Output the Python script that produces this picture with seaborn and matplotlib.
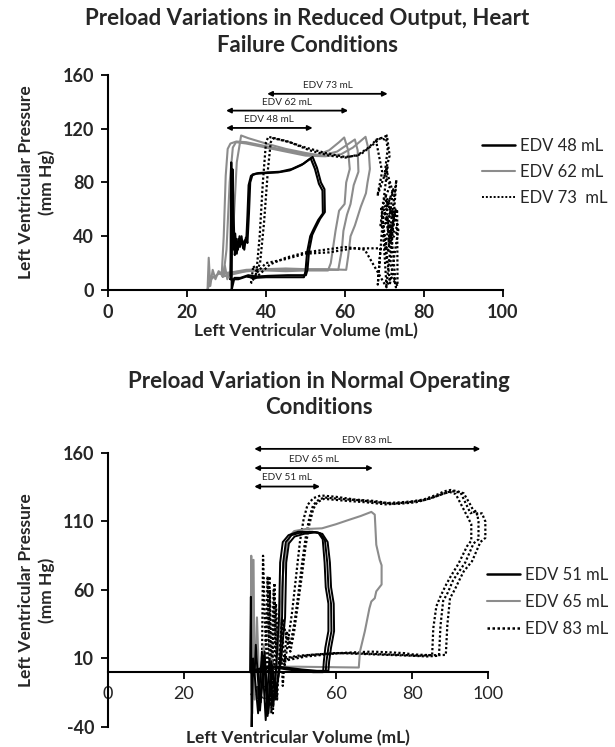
import pandas as pd
import numpy as np
import matplotlib
matplotlib.use('Agg')
import matplotlib.pyplot as plt
import seaborn as sns
from matplotlib.lines import Line2D

sns.set_style('ticks')
plt.rcParams['font.family'] = ['Lato', 'DejaVu Sans']
plt.rcParams['axes.unicode_minus'] = False

# ---- heart failure panel (top) ----
hf48_v1 = [31.0, 31.2, 31.5, 31.8, 32.2, 32.6, 33.0, 33.4, 33.8, 34.2, 34.6, 35.0, 35.3, 35.6, 36.2, 37.5, 40.0, 43.0, 46.0, 49.0,
           51.3, 52.4, 53.4, 54.3, 54.4, 53.2, 52.0, 51.2, 50.4, 50.0, 49.6, 45.0, 40.0, 37.0, 35.0, 33.0, 31.8, 31.0]
hf48_p1 = [8, 95, 62, 30, 42, 27, 38, 32, 40, 31, 37, 36, 55, 78, 85, 86.5, 87, 87.5, 89, 93,
           98, 90, 79, 74, 57, 52, 45, 40, 28, 14, 9.5, 9.5, 9.5, 9, 10, 8, 8, 8]
hf48_v2 = [31.3, 31.5, 31.8, 32.1, 32.5, 32.9, 33.3, 33.7, 34.1, 34.5, 34.9, 35.3, 35.7, 36.0, 36.6, 38.0, 40.5, 43.5, 46.5, 49.5,
           51.8, 52.9, 53.9, 54.8, 54.9, 53.7, 52.5, 51.7, 50.9, 50.5, 50.1, 45.5, 40.5, 37.5, 35.5, 33.5, 32.0, 31.3]
hf48_p2 = [0, 90, 55, 26, 38, 30, 40, 34, 36, 30, 39, 35, 58, 80, 86, 87, 87.5, 88, 90, 94,
           99, 91, 80, 75, 58, 53, 46, 41, 29, 15, 11, 11, 10.5, 10, 11, 9, 9, 0]

hf62_v1 = [25.2, 25.5, 25.9, 26.5, 27.2, 28.0, 28.8, 29.3, 29.8, 30.3, 31.0, 32.5, 35.0, 40.0, 45.0, 50.0, 53.0, 56.0, 58.5, 59.8,
           60.8, 61.2, 60.3, 59.9, 58.5, 57.6, 57.1, 56.4, 55.7, 50.0, 45.0, 40.0, 35.0, 31.0, 28.0, 26.0, 25.2]
hf62_p1 = [0, 24, 3, 15, 8, 14, 12, 40, 85, 105, 109, 110.5, 110, 107, 104, 101, 100.5, 104, 110, 113.5,
           104, 90, 80, 64, 59, 44, 34, 20, 14.5, 14.5, 14, 14.5, 14, 13, 12, 8, 0]
hf62_v2 = [29.0, 29.6, 30.2, 31.0, 31.8, 32.6, 33.7, 35.5, 40.0, 45.0, 50.0, 54.0, 58.0, 61.0, 62.5, 63.2, 63.4, 62.2, 61.4, 60.5,
           59.6, 59.2, 58.6, 58.3, 55.0, 50.0, 45.0, 40.0, 35.0, 32.0, 29.0]
hf62_p2 = [10, 18, 8, 14, 50, 95, 115, 113, 109, 105, 102, 100, 103, 109, 112, 104, 88, 78, 64, 56,
           44, 30, 20, 15, 15, 15, 15, 15, 14, 12, 10]
hf62_v3 = [28.5, 29.2, 30.0, 30.8, 31.6, 32.4, 35.0, 40.0, 45.0, 50.0, 55.0, 59.0, 62.0, 64.0, 65.2, 66.0, 66.3, 65.7, 65.3, 64.0,
           62.5, 61.4, 60.8, 60.3, 55.0, 50.0, 45.0, 40.0, 35.0, 31.0, 28.5]
hf62_p3 = [12, 10, 30, 80, 106, 110, 109, 106, 103, 100, 99.5, 101, 106, 111, 114, 104, 90, 80, 72, 62,
           48, 40, 25, 15, 15.5, 15.5, 16, 15.5, 15, 13, 12]

hf73_v1 = [36.2, 36.8, 37.6, 38.4, 39.2, 40.0, 40.6, 45.0, 50.0, 55.0, 60.0, 63.0, 66.0, 68.0, 69.2, 70.3, 70.8, 70.0, 71.5, 69.6,
           72.0, 70.0, 71.8, 69.8, 71.2, 70.3, 72.6, 71.0, 73.0, 71.5, 72.9, 71.8, 70.5, 69.5, 68.3, 69.0, 67.0, 62.0, 56.0, 50.0,
           45.0, 40.0, 38.0, 36.2]
hf73_p1 = [5, 18, 14, 40, 80, 110, 114, 111, 106, 102, 99, 100, 106, 112, 113, 114.5, 105, 85, 78, 65,
           58, 50, 45, 60, 40, 70, 55, 35, 82, 20, 2, 40, 3, 50, 4, 31, 31, 31, 28, 27,
           23, 20, 14, 5]
hf73_v2 = [37.0, 37.8, 38.5, 39.5, 40.5, 41.2, 41.8, 46.0, 51.0, 56.0, 60.0, 64.0, 67.0, 69.0, 70.0, 70.6, 71.3, 70.4, 72.2, 70.1,
           72.5, 70.6, 73.4, 71.2, 72.8, 70.8, 73.2, 73.3, 71.6, 70.5, 65.0, 60.0, 55.0, 50.0, 45.0, 41.0, 38.5, 37.0]
hf73_p2 = [8, 15, 20, 50, 90, 110, 113, 110, 104, 100, 98.5, 101, 108, 113, 112, 115, 100, 90, 72, 62,
           52, 66, 48, 38, 60, 28, 60, 3, 10, 2, 30, 32, 30, 28, 24, 19, 12, 8]
hf73_v3 = [67.8, 68.6, 69.4, 68.2, 70.8, 69.0, 72.2, 70.2, 73.5, 71.4, 69.2, 70.6]
hf73_p3 = [112, 100, 88, 70, 92, 48, 75, 30, 45, 5, 62, 20]

# ---- normal operating panel (bottom) ----
no51_v1 = [37.4, 37.6, 37.8, 38.2, 39.5, 40.5, 41.5, 42.5, 43.5, 44.3, 45.0, 45.3, 46.0, 47.5, 50.0, 53.0, 55.3, 56.5, 57.0, 57.3,
           58.0, 58.0, 57.2, 56.8, 56.6, 54.0, 50.0, 47.0, 45.0, 42.0, 39.0, 37.4]
no51_p1 = [0, 55, -40, 10, -30, 15, -35, 10, -25, 5, 40, 80, 95, 100, 102.5, 102.5, 102, 97, 80, 62,
           50, 30, 18, 8, 0, 0, 1, 2, 3, 4, 2, 0]
no51_v2 = [38.6, 38.9, 40.0, 41.0, 42.0, 43.0, 44.0, 45.2, 45.8, 46.1, 46.8, 48.3, 50.8, 53.8, 55.8, 57.1, 57.7, 58.0, 58.7, 58.8,
           58.0, 57.5, 57.3, 54.5, 50.5, 47.5, 45.0, 42.0, 40.0, 38.6]
no51_p2 = [0, 20, -28, 12, -32, 8, -20, 6, 40, 80, 95, 100, 102, 102.5, 101.5, 96, 80, 62, 50, 30,
           18, 8, 0.5, 0.5, 1.5, 2.5, 3.5, 4, 2, 0]
no51_v3 = [39.5, 40.2, 41.2, 42.2, 43.2, 44.2, 45.5, 46.6, 46.9, 47.6, 49.1, 51.6, 54.6, 56.4, 57.8, 58.4, 58.7, 59.4, 59.5, 58.7,
           58.2, 58.0, 55.0, 51.0, 48.0, 45.0, 42.0, 39.5]
no51_p3 = [0, -22, 15, -30, 5, -15, 8, 40, 80, 94, 99, 101, 102, 101, 95, 80, 62, 50, 30, 18,
           8, 1, 1, 2, 3, 4, 3, 0]

no65_v1 = [37.5, 37.7, 38.0, 38.3, 38.6, 39.2, 40.0, 41.0, 42.0, 43.0, 44.0, 45.0, 46.0, 47.0, 48.0, 49.0, 52.0, 56.3, 60.0, 63.2,
           66.5, 69.3, 70.2, 70.6, 71.5, 72.0, 72.0, 70.6, 70.2, 69.3, 68.8, 67.6, 66.3, 66.0, 60.0, 55.0, 50.0, 47.0, 44.0, 41.0, 37.5]
no65_p1 = [0, 85, -30, 82, -20, 40, -25, 20, -30, 10, -10, 30, 70, 92, 100, 103, 104.5, 105, 108, 111,
           114, 117, 115, 93, 82, 78, 64, 59, 54, 51.6, 46.7, 30, 15, 3.4, 3.6, 3.8, 4, 4, 3, 2, 0]

no83_v1 = [40.5, 40.8, 41.5, 42.5, 43.0, 43.8, 44.5, 45.5, 46.5, 47.5, 48.5, 49.5, 50.5, 51.5, 52.5, 54.0, 56.0, 60.0, 65.0, 70.0,
           73.6, 77.0, 79.7, 83.0, 85.0, 87.0, 88.4, 90.2, 92.0, 93.6, 95.4, 96.7, 98.4, 99.3, 99.3, 98.0, 95.8, 93.6, 92.7, 91.2,
           90.0, 89.3, 88.9, 86.0, 83.2, 80.0, 78.0, 74.0, 69.3, 65.0, 60.6, 56.0, 52.0, 47.6, 43.3, 40.5]
no83_p1 = [0, 85, 20, 70, -30, 65, -20, 40, 5, 25, 45, 70, 95, 112, 122, 127, 129, 128, 126, 125,
           123.5, 124, 124.6, 126, 128, 130, 132, 133, 132, 130.6, 122, 115, 116, 110, 98, 95, 81, 73.5, 68.6, 60,
           54, 34.5, 12.6, 12.4, 12.6, 13, 13.9, 14.5, 15, 14.5, 13.9, 12.5, 11.4, 9, 5.4, 0]
no83_v2 = [41.5, 42.0, 42.8, 43.6, 44.4, 45.2, 46.0, 47.0, 48.0, 49.0, 50.0, 51.0, 52.0, 53.0, 54.0, 55.5, 57.0, 61.0, 66.0, 71.0,
           75.0, 79.0, 83.0, 86.0, 88.0, 89.5, 91.0, 92.8, 94.0, 95.4, 97.0, 97.5, 97.5, 96.2, 94.0, 92.0, 90.8, 89.4, 88.2, 87.5,
           87.1, 84.0, 80.0, 75.0, 70.0, 65.0, 60.0, 55.0, 50.0, 46.0, 43.5, 41.5]
no83_p2 = [0, 70, -25, 60, 10, 45, -10, 30, 20, 35, 55, 78, 98, 113, 122, 126, 127.5, 126.5, 125.5, 124,
           123, 124, 125.5, 128, 130, 131.5, 132, 131, 124, 116, 118, 110, 97, 94, 80, 72, 67, 58, 52, 34,
           12, 11.5, 12, 12.5, 13, 13.5, 14, 13, 12, 10, 6, 0]
no83_v3 = [42.0, 42.6, 43.4, 44.2, 45.0, 46.0, 47.0, 48.0, 49.0, 50.0, 51.0, 52.0, 53.0, 54.0, 55.0, 56.8, 59.0, 63.0, 68.0, 73.0,
           77.0, 81.0, 84.5, 87.0, 88.5, 90.0, 91.5, 93.0, 94.5, 95.6, 95.6, 94.5, 92.2, 90.2, 89.0, 87.6, 86.4, 85.6, 85.3, 82.0,
           78.0, 73.0, 68.0, 63.0, 58.0, 53.0, 48.0, 45.0, 42.0]
no83_p3 = [0, 60, -30, 50, 5, 38, 25, 15, 30, 50, 70, 92, 108, 119, 124, 126.5, 126, 125, 124, 122.5,
           123, 124, 126.5, 129, 130.5, 131.5, 130, 122, 114, 108, 96, 92, 79, 70, 64, 56, 48, 32, 12.5, 12,
           12.5, 13, 13.5, 14, 13.5, 12.5, 10.5, 7, 0]

# EDV span arrows: (label, start, end, pressure level)
hf_arrows = [('EDV 73 mL', 40.3, 70.8, 146), ('EDV 62 mL', 29.9, 60.8, 133.5), ('EDV 48 mL', 29.9, 51.8, 120.6)]
no_arrows = [('EDV 83 mL', 38.5, 98.0, 163), ('EDV 65 mL', 38.5, 69.7, 149), ('EDV 51 mL', 38.5, 55.8, 135.5)]

GRAY = '#8c8c8c'
DOT = (0, (1, 1))


def loops(cycles):
    parts = []
    for i, (v, p) in enumerate(cycles):
        parts.append(pd.DataFrame({'volume': v, 'pressure': p, 'cycle': i}))
    return pd.concat(parts, ignore_index=True)


def draw(ax, df, color, ls, lw):
    sns.lineplot(data=df, x='volume', y='pressure', units='cycle', estimator=None, sort=False,
                 color=color, linestyle=ls, linewidth=lw, ax=ax, legend=False)


def arrows(ax, spec):
    for lab, x0, x1, y in spec:
        ax.annotate('', xy=(x1, y), xytext=(x0, y), annotation_clip=False,
                    arrowprops=dict(arrowstyle='<|-|>', color='black', lw=1.3,
                                    mutation_scale=7, shrinkA=0, shrinkB=0))
        ax.text((x0 + x1) / 2, y + 3, lab, ha='center', va='bottom', fontsize=7.2, clip_on=False)


def style(ax, yticks):
    ax.set_xlim(0, 100)
    ax.set_xticks(range(0, 101, 20))
    ax.set_yticks(yticks)
    sns.despine(ax=ax)
    for s in ['left', 'bottom']:
        ax.spines[s].set_color('black')
        ax.spines[s].set_linewidth(1.5)
    ax.tick_params(direction='out', length=5, width=1.3, color='black', labelsize=13, pad=5)
    for t in ax.get_xticklabels() + ax.get_yticklabels():
        t.set_fontweight('bold')
    ax.set_ylabel('Left Ventricular Pressure\n(mm Hg)', fontsize=12.5, fontweight='bold', linespacing=1.3)
    ax.set_xlabel('Left Ventricular Volume (mL)', fontsize=12.5, fontweight='bold')


fig = plt.figure(figsize=(6.15, 7.47), dpi=100)
ax1 = fig.add_axes([0.1756, 0.6118, 0.6423, 0.2878])
ax2 = fig.add_axes([0.1756, 0.0268, 0.6179, 0.3668])

# top panel
draw(ax1, loops([(hf62_v1, hf62_p1), (hf62_v2, hf62_p2), (hf62_v3, hf62_p3)]), GRAY, '-', 1.5)
draw(ax1, loops([(hf73_v1, hf73_p1), (hf73_v2, hf73_p2), (hf73_v3, hf73_p3)]), 'black', DOT, 1.6)
draw(ax1, loops([(hf48_v1, hf48_p1), (hf48_v2, hf48_p2)]), 'black', '-', 1.5)
ax1.set_ylim(0, 160)
style(ax1, range(0, 161, 40))
arrows(ax1, hf_arrows)
ax1.yaxis.set_label_coords(-0.135, 0.5)
ax1.xaxis.set_label_coords(0.5, -0.155)

# bottom panel
draw(ax2, loops([(no83_v1, no83_p1), (no83_v2, no83_p2), (no83_v3, no83_p3)]), 'black', DOT, 1.6)
draw(ax2, loops([(no65_v1, no65_p1)]), GRAY, '-', 1.5)
draw(ax2, loops([(no51_v1, no51_p1), (no51_v2, no51_p2), (no51_v3, no51_p3)]), 'black', '-', 1.4)
ax2.set_ylim(-40, 160)
style(ax2, [-40, 10, 60, 110, 160])
ax2.spines['bottom'].set_position(('data', 0))
arrows(ax2, no_arrows)
ax2.yaxis.set_label_coords(-0.14, 0.5)
ax2.xaxis.set_label_coords(0.5, -0.01)

fig.text(0.5, 0.957, 'Preload Variations in Reduced Output, Heart\nFailure Conditions',
         ha='center', va='center', fontsize=16, fontweight='bold', linespacing=1.35)
fig.text(0.518, 0.472, 'Preload Variation in Normal Operating\nConditions',
         ha='center', va='center', fontsize=16, fontweight='bold', linespacing=1.3)

h_top = [Line2D([], [], color='black', lw=1.8), Line2D([], [], color=GRAY, lw=1.5),
         Line2D([], [], color='black', lw=1.4, linestyle=DOT)]
fig.legend(h_top, ['EDV 48 mL', 'EDV 62 mL', 'EDV 73  mL'], loc='center left',
           bbox_to_anchor=(0.784, 0.7697), frameon=False, fontsize=12, handlelength=2.0,
           handletextpad=0.3, labelspacing=0.6, borderpad=0, borderaxespad=0)
h_bot = [Line2D([], [], color='black', lw=1.8), Line2D([], [], color=GRAY, lw=1.5),
         Line2D([], [], color='black', lw=1.8, linestyle=DOT)]
fig.legend(h_bot, ['EDV 51 mL', 'EDV 65 mL', 'EDV 83 mL'], loc='center left',
           bbox_to_anchor=(0.792, 0.1941), frameon=False, fontsize=12, handlelength=2.0,
           handletextpad=0.3, labelspacing=0.65, borderpad=0, borderaxespad=0)

fig.savefig('out.png', dpi=100)
